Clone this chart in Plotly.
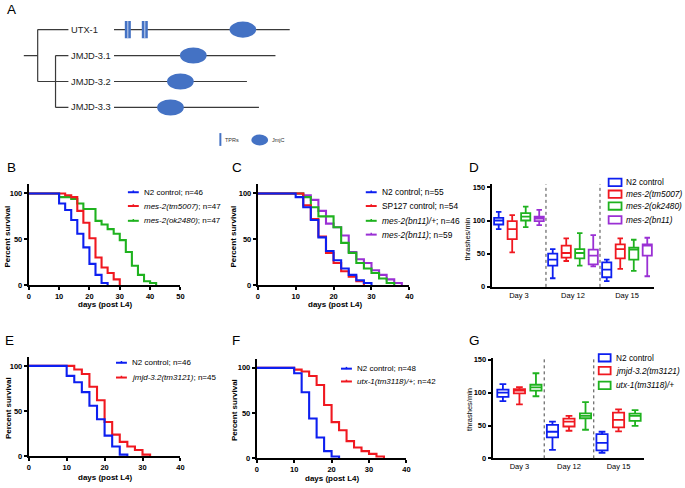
import plotly.graph_objects as go

W, H = 685, 488
FONT = "Liberation Sans, Arial, sans-serif"

BLUE = "#0d1ff0"
RED = "#f01820"
GREEN = "#1fb21f"
PURPLE = "#9a30d4"
PROT = "#4472c4"
GREY = "#3a3a3a"

# ---------------- Panel A data ----------------
proteins = ["UTX-1", "JMJD-3.1", "JMJD-3.2", "JMJD-3.3"]
protein_len = [1170, 1075, 885, 965]
jmjc_center = [858, 528, 442, 376]
utx_tpr = [92, 205]

# ---------------- Panel B data ----------------
b_n2_days = [0, 10, 12, 14, 16, 18, 20, 22, 24, 26]
b_n2_surv = [100, 89, 82, 71, 56, 41, 23, 11, 2, 0]
b_tm5007_days = [0, 12, 14, 16, 18, 20, 22, 24, 26, 28, 30]
b_tm5007_surv = [100, 98, 96, 81, 68, 51, 30, 19, 13, 6, 0]
b_ok2480_days = [0, 10, 14, 16, 18, 22, 24, 26, 28, 30, 32, 34, 36, 38, 40, 42]
b_ok2480_surv = [100, 96, 94, 89, 83, 70, 66, 61, 56, 49, 36, 21, 11, 4, 2, 0]
b_labels = ["N2 control; n=46", "<i>mes-2(tm5007)</i>; n=47", "<i>mes-2(ok2480)</i>; n=47"]

# ---------------- Panel C data ----------------
c_n2_days = [0, 10, 12, 14, 16, 18, 20, 22, 24, 26, 28, 30]
c_n2_surv = [100, 96, 85, 71, 52, 37, 27, 18, 11, 5, 2, 0]
c_sp127_days = [0, 12, 14, 16, 18, 20, 22, 24, 26, 28]
c_sp127_surv = [100, 87, 72, 53, 35, 24, 15, 9, 4, 0]
c_het_days = [0, 12, 14, 16, 20, 22, 24, 26, 28, 30, 32, 34, 36]
c_het_surv = [100, 96, 85, 75, 63, 46, 35, 24, 18, 13, 7, 2, 0]
c_bn11_days = [0, 12, 14, 16, 18, 20, 22, 24, 26, 28, 30, 32, 34, 36, 38]
c_bn11_surv = [100, 98, 93, 81, 67, 63, 54, 36, 28, 24, 16, 11, 6, 2, 0]
c_labels = ["N2 control; n=55", "SP127 control; n=54",
            "<i>mes-2(bn11)/+</i>; n=46", "<i>mes-2(bn11)</i>; n=59"]

# ---------------- Panel D data (min, q1, median, q3, max) ----------------
day_cats = ["Day 3", "Day 12", "Day 15"]
d_n2 = [[87, 94, 100, 104, 113], [13, 32, 41, 50, 57], [8.5, 14.5, 26, 37, 41]]
d_tm5007 = [[52, 72, 87, 99, 108], [39, 44, 51, 62, 73], [27, 43, 57, 64, 73]]
d_ok2480 = [[90, 100, 106, 111, 121], [32, 43, 51, 57, 81], [24, 41, 56, 59, 71]]
d_bn11 = [[93, 99, 103, 106, 116], [31, 34, 47, 56, 78], [16, 47, 62, 64, 74]]
d_labels = ["N2 control", "<i>mes-2(tm5007)</i>", "<i>mes-2(ok2480)</i>", "<i>mes-2(bn11)</i>"]

# ---------------- Panel E data ----------------
e_n2_days = [0, 10, 12, 14, 16, 18, 20, 22, 24, 26]
e_n2_surv = [100, 89, 82, 71, 56, 41, 23, 11, 2, 0]
e_jmjd_days = [0, 12, 14, 16, 18, 20, 22, 24, 26, 28, 30, 32]
e_jmjd_surv = [100, 96, 91, 77, 62, 38, 24, 16, 11, 7, 2, 0]
e_labels = ["N2 control; n=46", "<i>jmjd-3.2(tm3121)</i>; n=45"]

# ---------------- Panel F data ----------------
f_n2_days = [0, 10, 12, 14, 16, 18, 20, 22]
f_n2_surv = [100, 94, 73, 44, 23, 8, 2, 0]
f_utx_days = [0, 10, 12, 14, 16, 18, 20, 22, 24, 26, 28, 30, 32, 34]
f_utx_surv = [100, 98, 96, 91, 81, 59, 40, 31, 19, 12, 8, 5, 2, 0]
f_labels = ["N2 control; n=48", "<i>utx-1(tm3118)/+</i>; n=42"]

# ---------------- Panel G data ----------------
g_n2 = [[87, 93.5, 100, 104.5, 113], [13, 32, 40.5, 51, 56], [8.5, 12, 23.5, 37, 40.5]]
g_jmjd = [[82, 99, 103, 105.5, 108.5], [42, 48.5, 56, 60.5, 64.5], [41, 47, 58.5, 69.5, 74.5]]
g_utx = [[94.5, 103, 108, 112, 129.5], [43.5, 61, 64.5, 68.5, 85.5], [49.5, 57, 64.5, 68, 73.5]]
g_labels = ["N2 control", "<i>jmjd-3.2(tm3121)</i>", "<i>utx-1(tm3118)/+</i>"]


def fx(px):
    return px / W


def fy(py):
    return 1 - py / H


fig = go.Figure()
shapes = []
annotations = []

# ---------------- survival panels ----------------
surv_panels = [
    ("x", "y", [(b_ok2480_days, b_ok2480_surv, GREEN), (b_tm5007_days, b_tm5007_surv, RED),
                (b_n2_days, b_n2_surv, BLUE)]),
    ("x2", "y2", [(c_bn11_days, c_bn11_surv, PURPLE), (c_het_days, c_het_surv, GREEN),
                  (c_sp127_days, c_sp127_surv, RED), (c_n2_days, c_n2_surv, BLUE)]),
    ("x3", "y3", [(e_jmjd_days, e_jmjd_surv, RED), (e_n2_days, e_n2_surv, BLUE)]),
    ("x4", "y4", [(f_utx_days, f_utx_surv, RED), (f_n2_days, f_n2_surv, BLUE)]),
]
for xa, ya, series in surv_panels:
    for d, s, c in series:
        fig.add_trace(go.Scatter(x=d, y=s, mode="lines", line=dict(color=c, width=2.1, shape="hv"),
                                 xaxis=xa, yaxis=ya, showlegend=False, hoverinfo="skip"))

# ---------------- box panels ----------------
def add_boxes(stats, color, xa, ya, group, idx):
    fig.add_trace(go.Box(
        x=day_cats,
        lowerfence=[s[0] for s in stats], q1=[s[1] for s in stats],
        median=[s[2] for s in stats], q3=[s[3] for s in stats],
        upperfence=[s[4] for s in stats],
        line=dict(color=color, width=1.8), fillcolor="rgba(255,255,255,0)",
        whiskerwidth=0.6, boxpoints=False, xaxis=xa, yaxis=ya,
        alignmentgroup=group, offsetgroup=f"{group}{idx}",
        showlegend=False, hoverinfo="skip"))


for i, (st, c) in enumerate([(d_n2, BLUE), (d_tm5007, RED), (d_ok2480, GREEN), (d_bn11, PURPLE)]):
    add_boxes(st, c, "x5", "y5", "D", i)
for i, (st, c) in enumerate([(g_n2, BLUE), (g_jmjd, RED), (g_utx, GREEN)]):
    add_boxes(st, c, "x6", "y6", "G", i)

# ---------------- Panel A diagram ----------------
AA_PER_PX = 6.6
ORIGIN_PX = 113


def px_to_aa(px):
    return (px - ORIGIN_PX) * AA_PER_PX


bx, by = [], []
for i, L in enumerate(protein_len):
    bx += [0, L, None]
    by += [i, i, None]
fig.add_trace(go.Scatter(x=bx, y=by, mode="lines", line=dict(color=GREY, width=1.2),
                         xaxis="x7", yaxis="y7", showlegend=False, hoverinfo="skip"))

tree_edges = [((22, 1), (36, 1)), ((36, 0), (36, 2)), ((36, 0), (67, 0)), ((36, 2), (67, 2)),
              ((54, 1), (54, 3)), ((54, 1), (67, 1)), ((54, 3), (67, 3))]
tx, ty = [], []
for (x0, y0), (x1, y1) in tree_edges:
    tx += [px_to_aa(x0), px_to_aa(x1), None]
    ty += [y0, y1, None]
fig.add_trace(go.Scatter(x=tx, y=ty, mode="lines", line=dict(color=GREY, width=1.2),
                         xaxis="x7", yaxis="y7", showlegend=False, hoverinfo="skip"))

for i, c in enumerate(jmjc_center):
    shapes.append(dict(type="circle", xref="x7", yref="y7", x0=c - 89, x1=c + 89,
                       y0=i - 0.31, y1=i + 0.31, fillcolor=PROT, line=dict(width=0), layer="above"))
for p in utx_tpr:
    shapes.append(dict(type="rect", xref="x7", yref="y7", x0=p - 20, x1=p + 20,
                       y0=-0.33, y1=0.33, fillcolor=PROT, line=dict(width=0), layer="above"))
    shapes.append(dict(type="line", xref="x7", yref="y7", x0=p, x1=p,
                       y0=-0.33, y1=0.33, line=dict(color="#c9d5ee", width=1), layer="above"))
for i, name in enumerate(proteins):
    annotations.append(dict(xref="x7", yref="y7", x=px_to_aa(68), y=i, text=name,
                            showarrow=False, xanchor="left", yanchor="middle",
                            font=dict(family=FONT, size=9.3, color="#222")))

# A legend
shapes.append(dict(type="rect", xref="paper", yref="paper", x0=fx(219.3), x1=fx(221.3),
                   y0=fy(146), y1=fy(133), fillcolor=PROT, line=dict(width=0)))
annotations.append(dict(xref="paper", yref="paper", x=fx(223), y=fy(140), text="TPRs",
                        showarrow=False, xanchor="left", yanchor="middle",
                        font=dict(family=FONT, size=5.5, color="#333")))
shapes.append(dict(type="circle", xref="paper", yref="paper", x0=fx(251.5), x1=fx(268.5),
                   y0=fy(145.5), y1=fy(134.5), fillcolor=PROT, line=dict(width=0)))
annotations.append(dict(xref="paper", yref="paper", x=fx(270), y=fy(140), text="JmjC",
                        showarrow=False, xanchor="left", yanchor="middle",
                        font=dict(family=FONT, size=5.5, color="#333")))

# ---------------- legends ----------------
def line_legend(x0, rows, colors, labels, size=8):
    for yy, c, lab in zip(rows, colors, labels):
        shapes.append(dict(type="line", xref="paper", yref="paper", x0=fx(x0), x1=fx(x0 + 11),
                           y0=fy(yy), y1=fy(yy), line=dict(color=c, width=2)))
        shapes.append(dict(type="line", xref="paper", yref="paper", x0=fx(x0 + 5.5), x1=fx(x0 + 5.5),
                           y0=fy(yy - 1.8), y1=fy(yy + 0.5), line=dict(color=c, width=1.5)))
        annotations.append(dict(xref="paper", yref="paper", x=fx(x0 + 14), y=fy(yy), text=lab,
                                showarrow=False, xanchor="left", yanchor="middle",
                                font=dict(family=FONT, size=size, color="black")))


def box_legend(x0, w, h, rows, colors, labels):
    for yy, c, lab in zip(rows, colors, labels):
        shapes.append(dict(type="rect", xref="paper", yref="paper", x0=fx(x0), x1=fx(x0 + w),
                           y0=fy(yy + h / 2), y1=fy(yy - h / 2), line=dict(color=c, width=1.8)))
        annotations.append(dict(xref="paper", yref="paper", x=fx(x0 + w + 3), y=fy(yy), text=lab,
                                showarrow=False, xanchor="left", yanchor="middle",
                                font=dict(family=FONT, size=8.3, color="black")))


line_legend(127, [193, 207, 222], [BLUE, RED, GREEN], b_labels)
line_legend(367, [193, 207, 222, 236], [BLUE, RED, GREEN, PURPLE], c_labels, size=8.4)
line_legend(115, [366, 381], [BLUE, RED], e_labels)
line_legend(342, [372, 385], [BLUE, RED], f_labels)
box_legend(612, 13, 7.5, [183, 195, 207, 221], [BLUE, RED, GREEN, PURPLE], d_labels)
box_legend(602, 12, 7.5, [361, 374, 389], [BLUE, RED, GREEN], g_labels)

# dotted dividers
for xa, ya in [("x5", "y5"), ("x6", "y6")]:
    for xv in [0.5, 1.5]:
        shapes.append(dict(type="line", xref=xa, yref=ya + " domain", x0=xv, x1=xv, y0=0, y1=1,
                           line=dict(color="#444", width=1, dash="dot")))

# panel letters
for lab, (px, py) in {"A": (9.5, 7.5), "B": (10, 168), "C": (237, 168), "D": (476, 168),
                      "E": (8, 343), "F": (236, 343), "G": (477, 343)}.items():
    annotations.append(dict(xref="paper", yref="paper", x=fx(px), y=fy(py), text=lab,
                            showarrow=False, xanchor="center", yanchor="middle",
                            font=dict(family=FONT, size=13.5, color="black")))

# axis titles
def title(text, px, py, angle=0, bold=True, size=8):
    annotations.append(dict(xref="paper", yref="paper", x=fx(px), y=fy(py),
                            text=f"<b>{text}</b>" if bold else text, textangle=angle,
                            showarrow=False, xanchor="center", yanchor="middle",
                            font=dict(family=FONT, size=size, color="black")))


for px, py in [(6, 238), (234, 238), (6, 412), (234, 414)]:
    title("Percent survival", px, py, angle=-90)
for px, py in [(104, 307), (336, 307), (104, 482), (333, 483)]:
    title("days (post L4)", px, py)
title("thrashes/min", 470, 240, angle=-90, bold=False, size=7.5)
title("thrashes/min", 471, 413, angle=-90, bold=False, size=7.5)

# ---------------- axes ----------------
tickfont = dict(family=FONT, size=7.5, color="black", weight="bold")
base = dict(showline=True, linecolor="black", linewidth=2, ticks="outside", ticklen=3,
            tickwidth=1.5, tickcolor="black", showgrid=False, zeroline=False,
            tickfont=tickfont, fixedrange=True)


def surv_axes(n, xd, yd, xmax):
    sfx = "" if n == 1 else str(n)
    return {
        f"xaxis{sfx}": dict(base, domain=[fx(xd[0]), fx(xd[1])], range=[0, xmax],
                            tickvals=list(range(0, xmax + 1, 10)), anchor=f"y{sfx}"),
        f"yaxis{sfx}": dict(base, domain=[fy(yd[1]), fy(yd[0])], range=[0, 110],
                            tickvals=[0, 50, 100], anchor=f"x{sfx}"),
    }


layout_axes = {}
layout_axes.update(surv_axes(1, (27, 180), (185, 287), 50))
layout_axes.update(surv_axes(2, (258, 411), (185, 287), 40))
layout_axes.update(surv_axes(3, (27, 180), (360, 461), 40))
layout_axes.update(surv_axes(4, (257, 408), (362, 463), 40))

cat_font = dict(family=FONT, size=7.5, color="black")
layout_axes["xaxis5"] = dict(base, domain=[fx(494), fx(658)], type="category",
                             categoryorder="array", categoryarray=day_cats,
                             range=[-0.505, 2.504], ticks="", tickfont=cat_font, anchor="y5")
layout_axes["yaxis5"] = dict(base, domain=[fy(289), fy(185)], range=[0, 154.5],
                             tickvals=[0, 50, 100, 150], anchor="x5")
layout_axes["xaxis6"] = dict(base, domain=[fx(495), fx(648)], type="category",
                             categoryorder="array", categoryarray=day_cats,
                             range=[-0.54, 2.52], ticks="", tickfont=cat_font, anchor="y6")
layout_axes["yaxis6"] = dict(base, domain=[fy(463), fy(361)], range=[0, 153],
                             tickvals=[0, 50, 100, 150], anchor="x6")
layout_axes["xaxis7"] = dict(domain=[0, 1], range=[px_to_aa(0), px_to_aa(W)], visible=False,
                             fixedrange=True, anchor="y7")
layout_axes["yaxis7"] = dict(domain=[fy(160), 1], range=[(160 - 28) / 26.33, -28 / 26.33],
                             visible=False, fixedrange=True, anchor="x7")

fig.update_layout(
    width=W, height=H, margin=dict(l=0, r=0, t=0, b=0),
    paper_bgcolor="white", plot_bgcolor="white",
    font=dict(family=FONT, color="black"),
    boxmode="group", boxgap=0.0, boxgroupgap=0.32,
    shapes=shapes, annotations=annotations, showlegend=False,
    **layout_axes,
)

fig.write_html("out.html", config={"displayModeBar": False},
               post_script="document.body.style.margin='0';document.body.style.overflow='hidden';")
